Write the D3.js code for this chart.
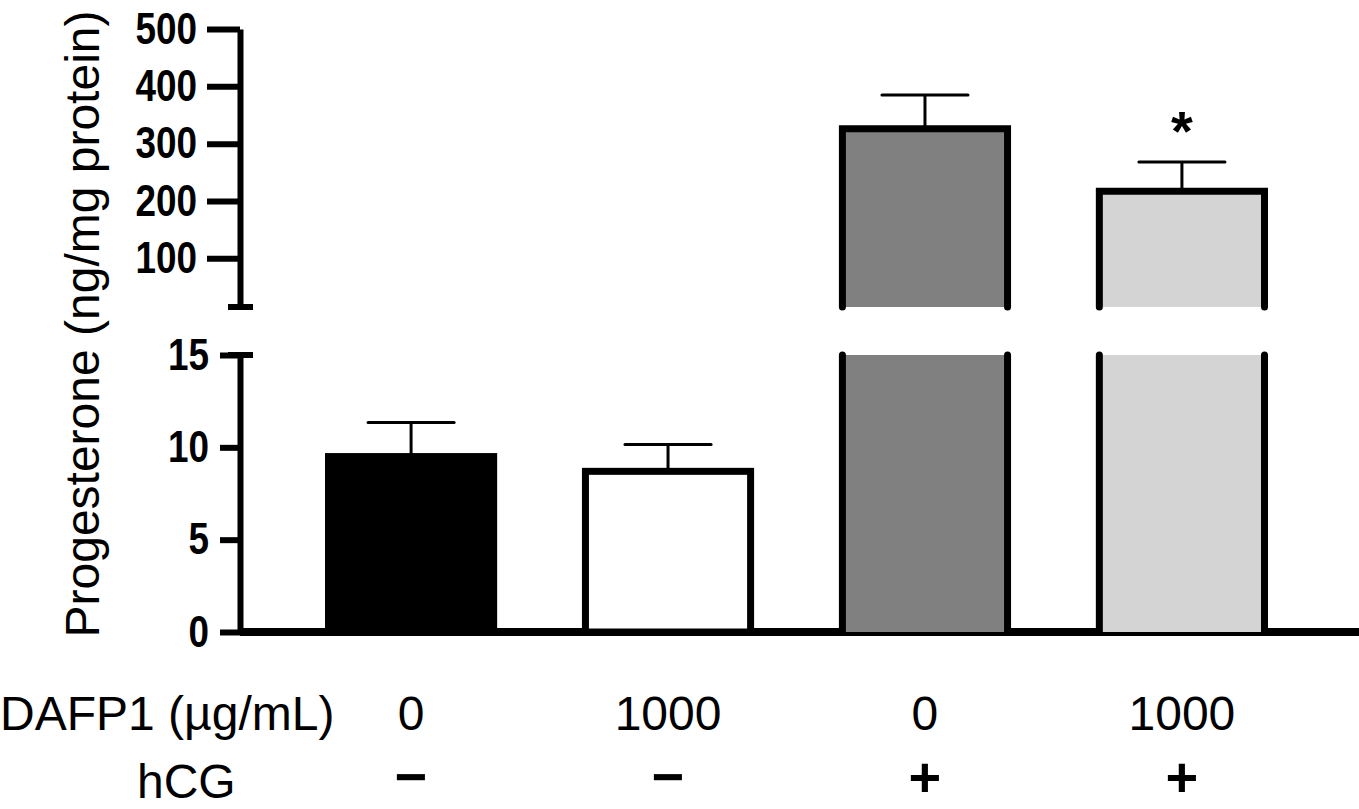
<!DOCTYPE html>
<html>
<head>
<meta charset="utf-8">
<script src="https://cdn.jsdelivr.net/npm/d3@7"></script>
<style>
  body { margin: 0; background: #fff; }
  svg { display: block; }
  .tick text { font-family: "Liberation Sans", Arial, sans-serif; font-weight: bold; }
</style>
</head>
<body>
<div class="canvas"></div>
<script>
// values
const dafp1 = ['0', '1000', '0', '1000'];
const hcg = ['\u2212', '\u2212', '+', '+'];
const means = [9.5, 8.7, 326, 217];
const errors = [1.85, 1.45, 59, 51];
const marks = ['', '', '', '*'];
const lowTicks = [0, 5, 10, 15];
const highTicks = [100, 200, 300, 400, 500];

const fills = ['#000000', '#ffffff', '#808080', '#d4d4d4'];

const dims = { width: 1359, height: 809 };
const brk = 15;     // axis break value
const sw = 7;       // bar outline width
const font = '"Liberation Sans", Arial, sans-serif';

const svg = d3.select('.canvas')
    .append('svg')
    .attr('width', dims.width)
    .attr('height', dims.height);

const x = d3.scaleBand()
    .domain(d3.range(means.length))
    .range([325, 1268])
    .paddingInner(0.33);

const yLow = d3.scaleLinear().domain([0, brk]).range([632, 355]);
const yHigh = d3.scaleLinear().domain([brk, 500]).range([307, 29]);
const y = v => v <= brk ? yLow(v) : yHigh(v);

const axisX = 240;

// y axes (two segments)
const lowAxis = d3.axisLeft(yLow).tickValues(lowTicks).tickSize(20).tickSizeOuter(0).tickPadding(11);
const highAxis = d3.axisLeft(yHigh).tickValues(highTicks).tickSize(33).tickSizeOuter(0).tickPadding(10);

[lowAxis, highAxis].forEach(ax => {
    const g = svg.append('g')
        .attr('transform', `translate(${axisX},0)`)
        .call(ax);
    g.select('.domain').attr('stroke', '#000').attr('stroke-width', 6);
    g.selectAll('.tick line').attr('stroke', '#000').attr('stroke-width', 6);
    // narrow bold digits like the original
    g.selectAll('.tick text')
        .attr('fill', '#000')
        .attr('font-size', 44)
        .attr('textLength', d => String(d).length * 20.5)
        .attr('lengthAdjust', 'spacingAndGlyphs');
});

// break caps
[yHigh(brk), yLow(brk)].forEach(v => {
    svg.append('line')
        .attr('x1', axisX - 12).attr('x2', axisX + 13)
        .attr('y1', v).attr('y2', v)
        .attr('stroke', '#000').attr('stroke-width', 6);
});

// x baseline
svg.append('line')
    .attr('x1', axisX).attr('x2', dims.width)
    .attr('y1', yLow(0)).attr('y2', yLow(0))
    .attr('stroke', '#000').attr('stroke-width', 8);

// bars
const bars = svg.append('g');

means.forEach((m, i) => {
    const x0 = x(i) + sw / 2;
    const x1 = x(i) + x.bandwidth() - sw / 2;
    if (m <= brk) {
        bars.append('rect')
            .attr('x', x0).attr('y', yLow(m))
            .attr('width', x1 - x0).attr('height', yLow(0) - yLow(m))
            .attr('fill', fills[i])
            .attr('stroke', '#000').attr('stroke-width', sw);
    } else {
        // lower part, open at the top
        bars.append('rect')
            .attr('x', x0).attr('y', yLow(brk))
            .attr('width', x1 - x0).attr('height', yLow(0) - yLow(brk))
            .attr('fill', fills[i]);
        bars.append('path')
            .attr('d', `M${x0},${yLow(0)}V${yLow(brk)}M${x1},${yLow(0)}V${yLow(brk)}`)
            .attr('stroke', '#000').attr('stroke-width', sw)
            .attr('stroke-linecap', 'round').attr('fill', 'none');
        // upper part, open at the bottom
        bars.append('rect')
            .attr('x', x0).attr('y', yHigh(m))
            .attr('width', x1 - x0).attr('height', yHigh(brk) - yHigh(m))
            .attr('fill', fills[i]);
        bars.append('path')
            .attr('d', `M${x0},${yHigh(brk)}V${yHigh(m)}H${x1}V${yHigh(brk)}`)
            .attr('stroke', '#000').attr('stroke-width', sw)
            .attr('stroke-linecap', 'round').attr('fill', 'none');
    }
});

// error whiskers (upper only)
const errs = svg.append('g').attr('stroke', '#000').attr('stroke-width', 3);
means.forEach((m, i) => {
    const cx = x(i) + x.bandwidth() / 2;
    const top = y(m + errors[i]);
    errs.append('line')
        .attr('x1', cx).attr('x2', cx)
        .attr('y1', y(m)).attr('y2', top);
    errs.append('line')
        .attr('x1', cx - x.bandwidth() / 4).attr('x2', cx + x.bandwidth() / 4)
        .attr('y1', top).attr('y2', top)
        .attr('stroke-linecap', 'round');
});

// significance marks
svg.append('g').selectAll('text')
    .data(marks)
    .enter().append('text')
    .attr('x', (d, i) => x(i) + x.bandwidth() / 2)
    .attr('y', (d, i) => y(means[i] + errors[i]) - 12)
    .attr('text-anchor', 'middle')
    .attr('font-family', font)
    .attr('font-weight', 'bold')
    .attr('font-size', 56)
    .text(d => d);

// y title
svg.append('text')
    .attr('transform', 'translate(99,324) rotate(-90)')
    .attr('text-anchor', 'middle')
    .attr('font-family', font)
    .attr('font-size', 48)
    .text('Progesterone (ng/mg protein)');

// x rows
svg.append('text')
    .attr('x', 0).attr('y', 730)
    .attr('font-family', font).attr('font-size', 48)
    .text('DAFP1 (\u00b5g/mL)');

svg.append('text')
    .attr('x', 137).attr('y', 798)
    .attr('font-family', font).attr('font-size', 48)
    .text('hCG');

svg.append('g').selectAll('text')
    .data(dafp1)
    .enter().append('text')
    .attr('x', (d, i) => x(i) + x.bandwidth() / 2)
    .attr('y', 730)
    .attr('text-anchor', 'middle')
    .attr('font-family', font).attr('font-size', 48)
    .text(d => d);

svg.append('g').selectAll('text')
    .data(hcg)
    .enter().append('text')
    .attr('x', (d, i) => x(i) + x.bandwidth() / 2)
    .attr('y', 796)
    .attr('text-anchor', 'middle')
    .attr('font-family', font).attr('font-weight', 'bold').attr('font-size', 56)
    .text(d => d);
</script>
</body>
</html>
